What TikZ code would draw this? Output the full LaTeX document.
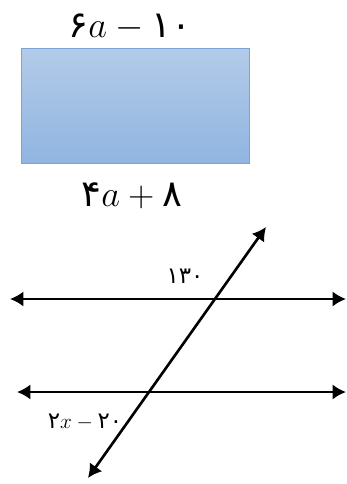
\documentclass[tikz,border=0pt]{standalone}
\usepackage{amsmath}
\usepackage{fontspec}
\usepackage{tikz}
\usetikzlibrary{arrows,arrows.meta,positioning,calc}
\newfontfamily\persfont{DejaVu Sans}
\definecolor{recttop}{RGB}{178,203,233}
\definecolor{rectbot}{RGB}{145,181,224}
\definecolor{rectline}{RGB}{125,163,212}

\begin{document}
\begin{tikzpicture}[
    x=0.02cm, y=-0.02cm,
    rectbox/.style={rectangle, draw=rectline, line width=0.5pt, top color=recttop, bottom color=rectbot, minimum width=4.56cm, minimum height=2.3cm, inner sep=0pt},
    biglabel/.style={font=\fontsize{21}{25}\selectfont, inner sep=1pt},
    anglelabel/.style={font=\fontsize{13}{15}\selectfont, inner sep=1pt},
    line/.style={{Latex[length=0.27cm,width=0.31cm]}-{Latex[length=0.27cm,width=0.31cm]}, line width=1.5pt}
]
\useasboundingbox (0,0) rectangle (347,484);

% Rectangle with side lengths
\node[rectbox] (rect) at (135,105.5) {};
\node[biglabel] (top_lbl) at (130,27) {$\mbox{\persfont ۶}a-\mbox{\persfont ۱۰}$};
\node[biglabel] (bot_lbl) at (132,196) {$\mbox{\persfont ۴}a+\mbox{\persfont ۸}$};

% Parallel lines and transversal
\coordinate (top_w) at (10,299);
\coordinate (top_e) at (346,299);
\coordinate (bot_w) at (17,392);
\coordinate (bot_e) at (346,392);
\coordinate (tr_s) at (88,478);
\coordinate (tr_n) at (266,227);
\draw[line] (top_w) -- (top_e);
\draw[line] (bot_w) -- (bot_e);
\draw[line] (tr_s) -- (tr_n);

% Angles
\node[anglelabel] (ang_top) at (185,276) {\persfont ۱۳۰};
\node[anglelabel] (ang_bot) at (85,422) {$\mbox{\persfont ۲}x-\mbox{\persfont ۲۰}$};

\end{tikzpicture}
\end{document}
